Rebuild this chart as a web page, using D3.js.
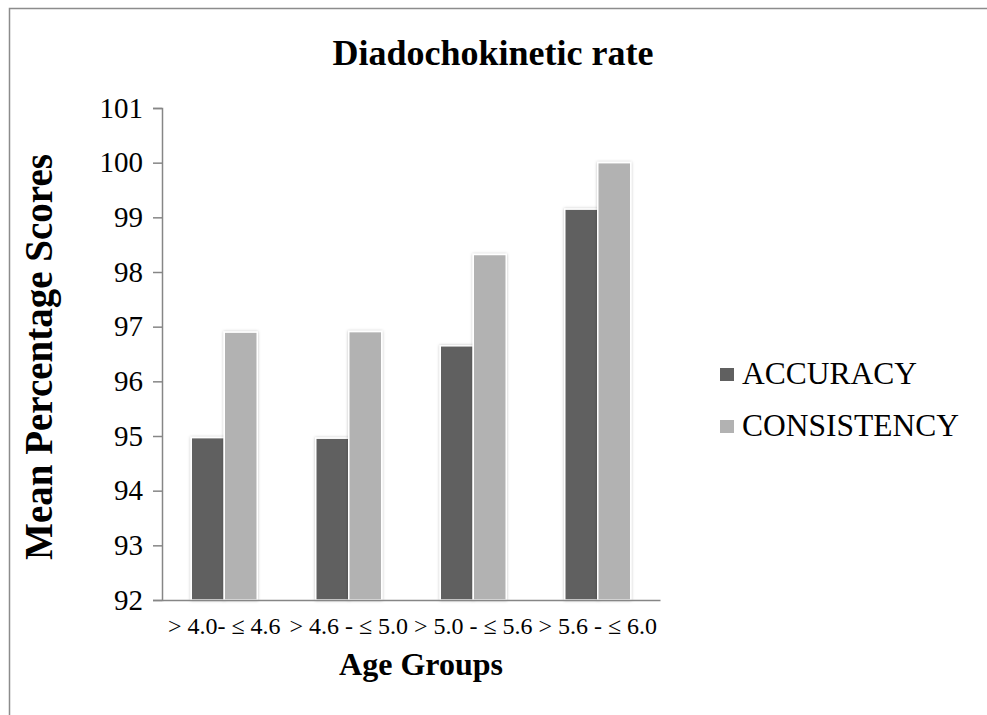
<!DOCTYPE html>
<html>
<head>
<meta charset="utf-8">
<script src="https://cdn.jsdelivr.net/npm/d3@7"></script>
<style>
  body { margin: 0; background: #fff; }
  text { font-family: "Liberation Serif", "Times New Roman", serif; fill: #000; }
</style>
</head>
<body>
<div id="chart"></div>
<script>
/* Data */
const ageGroups = ["> 4.0- \u2264 4.6", "> 4.6 - \u2264 5.0", "> 5.0 - \u2264 5.6", "> 5.6 - \u2264 6.0"];
const seriesNames = ["ACCURACY", "CONSISTENCY"];
const accuracy = [94.97, 94.96, 96.65, 99.15];
const consistency = [96.90, 96.91, 98.32, 100.0];
const yTicks = [92, 93, 94, 95, 96, 97, 98, 99, 100, 101];

const colors = ["#606060", "#b2b2b2"];

const width = 987, height = 715;
const plot = { left: 162, right: 660, top: 108, bottom: 600 };

const svg = d3.select("#chart").append("svg")
    .attr("width", width)
    .attr("height", height);

// soft shadow behind the bars
const defs = svg.append("defs");
const shadow = defs.append("filter").attr("id", "shadow")
    .attr("x", "-20%").attr("y", "-5%").attr("width", "140%").attr("height", "110%");
shadow.append("feDropShadow")
    .attr("dx", 0).attr("dy", 0).attr("stdDeviation", 1.5)
    .attr("flood-color", "#000").attr("flood-opacity", 0.25);

// outer frame
svg.append("rect")
    .attr("x", 9.5).attr("y", 8.5)
    .attr("width", 1000).attr("height", 720)
    .attr("fill", "none")
    .attr("stroke", "#8c8c8c")
    .attr("stroke-width", 1.5);

/* Scales */
const x0 = d3.scaleBand()
    .domain(ageGroups)
    .range([plot.left, plot.right])
    .padding(0);

const x1 = d3.scaleBand()
    .domain(seriesNames)
    .range([x0.bandwidth() * 0.235, x0.bandwidth() * 0.765])
    .padding(0);

const y = d3.scaleLinear()
    .domain([92, 101])
    .range([plot.bottom, plot.top]);

/* Bars */
const rows = ageGroups.map((g, i) => ({ group: g, values: [accuracy[i], consistency[i]] }));

const groups = svg.selectAll("g.group")
    .data(rows)
    .enter().append("g")
    .attr("class", "group")
    .attr("transform", d => "translate(" + x0(d.group) + ",0)");

groups.selectAll("rect")
    .data(d => d.values.map((v, j) => ({ key: seriesNames[j], value: v, idx: j })))
    .enter().append("rect")
    .attr("x", d => x1(d.key))
    .attr("y", d => y(d.value))
    .attr("width", x1.bandwidth())
    .attr("height", d => y(92) - y(d.value))
    .attr("fill", d => colors[d.idx])
    .attr("stroke", "#fff")
    .attr("stroke-width", 1.5)
    .attr("filter", "url(#shadow)");

/* Y axis */
const yAxis = svg.append("g")
    .attr("transform", "translate(" + plot.left + ",0)")
    .call(d3.axisLeft(y).tickValues(yTicks).tickSize(9).tickPadding(10).tickFormat(d3.format("d")));
yAxis.select(".domain").attr("stroke", "#868686").attr("stroke-width", 1.5);
yAxis.selectAll(".tick line").attr("stroke", "#868686").attr("stroke-width", 1.5);
yAxis.selectAll(".tick text")
    .style("font-family", "'Liberation Serif', serif")
    .style("font-size", "29px")
    .attr("fill", "#000");

/* X axis (baseline only) */
const xAxis = svg.append("g")
    .attr("transform", "translate(0," + plot.bottom + ")")
    .call(d3.axisBottom(x0).tickSize(0).tickPadding(17));
xAxis.select(".domain").attr("stroke", "#868686").attr("stroke-width", 1.5);
xAxis.selectAll(".tick text")
    .style("font-family", "'Liberation Serif', serif")
    .style("font-size", "24px")
    .attr("fill", "#000");

/* Titles */
svg.append("text")
    .attr("x", 493).attr("y", 65)
    .attr("text-anchor", "middle")
    .style("font-size", "36px")
    .style("font-weight", "bold")
    .text("Diadochokinetic rate");

svg.append("text")
    .attr("x", 421).attr("y", 675)
    .attr("text-anchor", "middle")
    .style("font-size", "32px")
    .style("font-weight", "bold")
    .text("Age Groups");

svg.append("text")
    .attr("transform", "translate(52,357) rotate(-90)")
    .attr("text-anchor", "middle")
    .style("font-size", "39px")
    .style("font-weight", "bold")
    .text("Mean Percentage Scores");

/* Legend */
const legend = svg.selectAll("g.legend")
    .data(seriesNames)
    .enter().append("g")
    .attr("class", "legend")
    .attr("transform", (d, i) => "translate(720," + (368 + i * 52) + ")");

legend.append("rect")
    .attr("width", 14).attr("height", 13)
    .attr("fill", (d, i) => colors[i]);

legend.append("text")
    .attr("x", 22).attr("y", 16)
    .style("font-size", "31.5px")
    .text(d => d);
</script>
</body>
</html>
